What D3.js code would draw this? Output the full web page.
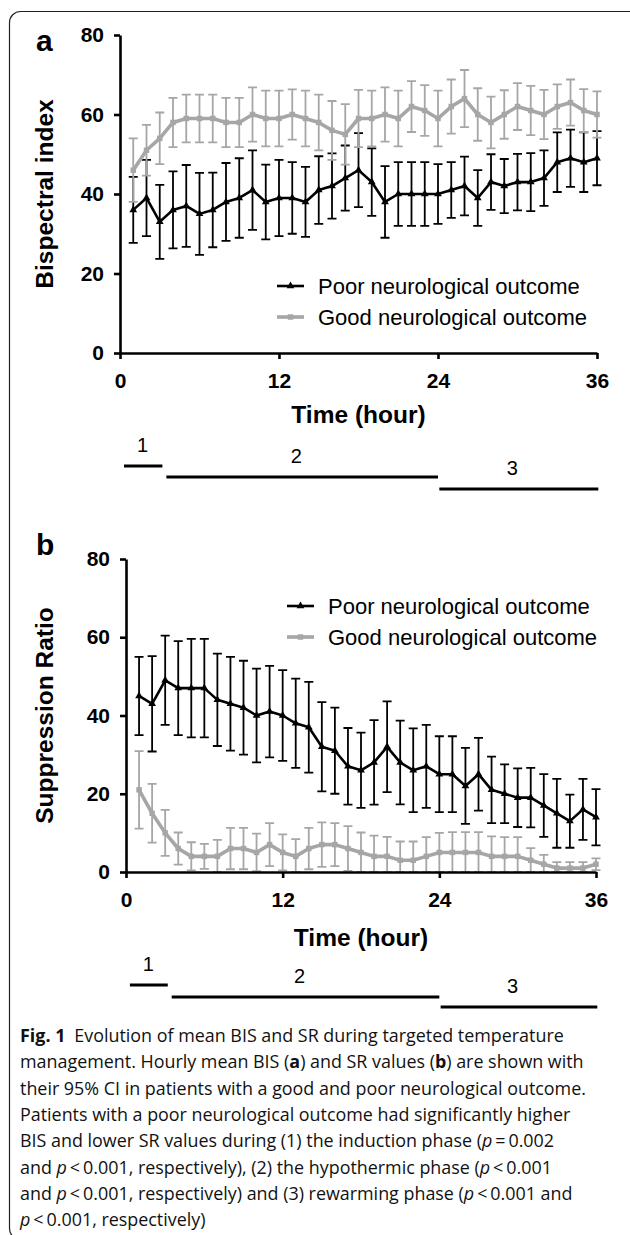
<!DOCTYPE html>
<html>
<head>
<meta charset="utf-8">
<script src="https://cdn.jsdelivr.net/npm/d3@7"></script>
<style>
body { margin: 0; background: #fff; }
svg { display: block; }
</style>
</head>
<body>
<script>

// hours after start of targeted temperature management
let hours = [1, 2, 3, 4, 5, 6, 7, 8, 9, 10, 11, 12, 13, 14, 15, 16, 17, 18,
	19, 20, 21, 22, 23, 24, 25, 26, 27, 28, 29, 30, 31, 32, 33, 34, 35, 36];

// panel a: bispectral index, mean and half width of 95% CI
let bisPoor = [36, 39, 33, 36, 37, 35, 36, 38, 39, 41, 38, 39, 39, 38, 41, 42, 44, 46,
	43, 38, 40, 40, 40, 40, 41, 42, 39, 43, 42, 43, 43, 44, 48, 49, 48, 49];
let bisPoorCI = [8.3, 9.6, 9.3, 9.7, 10.3, 10.3, 9.4, 9.8, 10, 10, 9.4, 9.6, 9, 8.8, 8.5, 8.2, 8.2, 9.3,
	8.5, 9, 8, 8, 8, 7.5, 7, 7.4, 7, 7, 6.8, 7.1, 7.3, 7, 7.5, 7.2, 7.5, 6.8];
let bisGood = [46, 51, 54, 58, 59, 59, 59, 58, 58, 60, 59, 59, 60, 59, 58, 56, 55, 59,
	59, 60, 59, 62, 61, 59, 62, 64, 60, 58, 60, 62, 61, 60, 62, 63, 61, 60];
let bisGoodCI = [8, 6.4, 6.5, 6.2, 6, 6, 6, 6.2, 6.2, 6.8, 7, 7, 6.3, 7, 7, 7.4, 7.6, 7.2,
	7, 6.8, 7, 6.4, 6.4, 7, 6.8, 7.2, 6.6, 6.5, 6.1, 5.9, 6.2, 6.2, 5.6, 5.8, 5.4, 5.8];

// panel b: suppression ratio, mean and half width of 95% CI
let srPoor = [45, 43, 49, 47, 47, 47, 44, 43, 42, 40, 41, 40, 38, 37, 32, 31, 27, 26,
	28, 32, 28, 26, 27, 25, 25, 22, 25, 21, 20, 19, 19, 17, 15, 13, 16, 14];
let srPoorCI = [10, 12.2, 11.4, 12, 12.6, 12.6, 11.8, 12, 12, 12, 11.7, 11.6, 11.4, 11.6, 11.4, 11, 9.8, 9.6,
	10.8, 11.6, 10.7, 10.7, 10.6, 9.7, 9.7, 9.7, 9.3, 8.5, 7.5, 7.5, 7.6, 8, 8.8, 6.8, 7.8, 7.2];
let srGood = [21, 15, 10, 6, 4, 4, 4, 6, 6, 5, 7, 5, 4, 6, 7, 7, 6, 5,
	4, 4, 3, 3, 4, 5, 5, 5, 5, 4, 4, 4, 3, 2, 1, 1, 1, 2];
let srGoodCI = [9.9, 7.5, 5.9, 4.1, 3.6, 3.2, 4.2, 5.3, 5.3, 4.8, 5.5, 4.6, 4.4, 5.3, 5.7, 5.5, 5.7, 5.1,
	5.3, 5, 4.8, 4.8, 4.9, 5, 5.2, 5.2, 5.2, 5.1, 4.9, 4.9, 3.1, 2.4, 1.5, 1.5, 1.5, 1.5];

let xTicks = [0, 12, 24, 36];
let yTicks = [0, 20, 40, 60, 80];

// treatment phases along the time axis (hours)
let phaseLabels = ["1", "2", "3"];
let phaseStart = [0.3, 3.5, 24.1];
let phaseEnd = [3.2, 24, 36.1];
let phaseLabelAt = [1.7, 13.3, 29.6];

let seriesNames = ["Poor neurological outcome", "Good neurological outcome"];

let width = 630;
let height = 1235;
let grey = "#a6a6a6";

let svg = d3.select("body")
	.append("svg")
		.attr("width", width)
		.attr("height", height);

// figure frame, open to the right and bottom
svg.append("rect")
	.attr("x", 9.5)
	.attr("y", 11.5)
	.attr("width", 700)
	.attr("height", 1228)
	.attr("rx", 11)
	.style("fill", "none")
	.style("stroke", "#222")
	.style("stroke-width", 1.2);

let panels = [
	{
		letter: "a", title: "Bispectral index",
		poor: bisPoor, poorCI: bisPoorCI, good: bisGood, goodCI: bisGoodCI,
		left: 120, right: 597, top: 35, bottom: 353,
		letterY: 51, legendX: 277, legendY: 286,
		timeY: 423, phaseY: [466, 477, 489]
	},
	{
		letter: "b", title: "Suppression Ratio",
		poor: srPoor, poorCI: srPoorCI, good: srGood, goodCI: srGoodCI,
		left: 126, right: 596, top: 559, bottom: 872,
		letterY: 555, legendX: 287, legendY: 606,
		timeY: 946, phaseY: [985, 997, 1007]
	}
];

panels.forEach(p => drawPanel(p));

function drawPanel(p) {
	let xScale = d3.scaleLinear()
		.domain([0, 36])
		.range([p.left, p.right]);

	let yScale = d3.scaleLinear()
		.domain([0, 80])
		.range([p.bottom, p.top]);

	let g = svg.append("g");

	// panel letter
	g.append("text")
		.attr("x", 36)
		.attr("y", p.letterY)
		.style("font-family", "Liberation Sans, Arial, sans-serif")
		.style("font-weight", "bold")
		.style("font-size", "30px")
		.text(p.letter);

	// y axis title
	g.append("text")
		.attr("transform", "translate(53," + ((p.top + p.bottom) / 2) + ") rotate(-90)")
		.attr("text-anchor", "middle")
		.style("font-family", "Liberation Sans, Arial, sans-serif")
		.style("font-weight", "bold")
		.style("font-size", "24.5px")
		.text(p.title);

	let series = [
		{ mean: p.poor, ci: p.poorCI, color: "#000", width: 2.6, marker: "triangle" },
		{ mean: p.good, ci: p.goodCI, color: grey, width: 3.6, marker: "square" }
	];

	series.forEach(s => {
		let sg = g.append("g");
		let rows = hours.map((h, i) => ({
			h: h,
			v: s.mean[i],
			lo: Math.max(0, s.mean[i] - s.ci[i]),
			hi: s.mean[i] + s.ci[i]
		}));

		// error bars
		sg.selectAll(".bar")
			.data(rows)
			.enter()
			.append("path")
				.attr("d", d => {
					let x = xScale(d.h);
					return "M" + (x - 4.5) + "," + yScale(d.hi) + "H" + (x + 4.5) +
						"M" + x + "," + yScale(d.hi) + "V" + yScale(d.lo) +
						"M" + (x - 4.5) + "," + yScale(d.lo) + "H" + (x + 4.5);
				})
				.style("fill", "none")
				.style("stroke", s.color)
				.style("stroke-width", 1.8);

		let line = d3.line()
			.x(d => xScale(d.h))
			.y(d => yScale(d.v));

		sg.append("path")
			.datum(rows)
			.attr("d", line)
			.style("fill", "none")
			.style("stroke", s.color)
			.style("stroke-width", s.width)
			.style("stroke-linejoin", "round");

		let sym = d3.symbol()
			.type(s.marker === "triangle" ? d3.symbolTriangle : d3.symbolSquare)
			.size(s.marker === "triangle" ? 26 : 30);

		sg.selectAll(".pt")
			.data(rows)
			.enter()
			.append("path")
				.attr("d", sym)
				.attr("transform", d => "translate(" + xScale(d.h) + "," + yScale(d.v) + ")")
				.style("fill", s.color);
	});

	// axes
	let xAxis = d3.axisBottom(xScale)
		.tickValues(xTicks)
		.tickSize(6)
		.tickSizeOuter(0)
		.tickPadding(10);

	let yAxis = d3.axisLeft(yScale)
		.tickValues(yTicks)
		.tickSize(6)
		.tickSizeOuter(0)
		.tickPadding(10);

	let xg = g.append("g")
		.attr("transform", "translate(0," + p.bottom + ")")
		.call(xAxis);

	let yg = g.append("g")
		.attr("transform", "translate(" + p.left + ",0)")
		.call(yAxis);

	[xg, yg].forEach(ax => {
		ax.select(".domain").style("stroke-width", 2.6).style("stroke", "#000");
		ax.selectAll(".tick line").style("stroke-width", 2.6).style("stroke", "#000");
		ax.selectAll(".tick text")
			.style("font-family", "Liberation Sans, Arial, sans-serif")
			.style("font-weight", "bold")
			.style("font-size", "21px")
			.style("fill", "#000");
	});
	xg.selectAll(".tick text").attr("dy", "0.9em");

	// x axis title
	g.append("text")
		.attr("x", (p.left + p.right) / 2)
		.attr("y", p.timeY)
		.attr("text-anchor", "middle")
		.style("font-family", "Liberation Sans, Arial, sans-serif")
		.style("font-weight", "bold")
		.style("font-size", "24.5px")
		.text("Time (hour)");

	// legend
	let legend = g.append("g")
		.attr("transform", "translate(" + p.legendX + "," + p.legendY + ")");

	series.forEach((s, i) => {
		let lg = legend.append("g").attr("transform", "translate(0," + (i * 31) + ")");
		lg.append("line")
			.attr("x1", 0)
			.attr("x2", 27)
			.style("stroke", s.color)
			.style("stroke-width", s.width);
		lg.append("path")
			.attr("d", d3.symbol()
				.type(s.marker === "triangle" ? d3.symbolTriangle : d3.symbolSquare)
				.size(s.marker === "triangle" ? 26 : 30))
			.attr("transform", "translate(13.5,0)")
			.style("fill", s.color);
		lg.append("text")
			.attr("x", 41)
			.attr("dy", "0.35em")
			.style("font-family", "Liberation Sans, Arial, sans-serif")
			.style("font-size", "22px")
			.text(seriesNames[i]);
	});

	// phase bars below the time axis
	phaseLabels.forEach((lab, i) => {
		g.append("line")
			.attr("x1", xScale(phaseStart[i]))
			.attr("x2", xScale(phaseEnd[i]))
			.attr("y1", p.phaseY[i])
			.attr("y2", p.phaseY[i])
			.style("stroke", "#000")
			.style("stroke-width", 3);
		g.append("text")
			.attr("x", xScale(phaseLabelAt[i]))
			.attr("y", p.phaseY[i] - 14)
			.attr("text-anchor", "middle")
			.style("font-family", "Liberation Sans, Arial, sans-serif")
			.style("font-size", "20px")
			.text(lab);
	});
}

// caption
let caption = [
	[["Fig. 1", "b"], ["\u2002Evolution of mean BIS and SR during targeted temperature", ""]],
	[["management. Hourly mean BIS (", ""], ["a", "b"], [") and SR values (", ""], ["b", "b"], [") are shown with", ""]],
	[["their 95% CI in patients with a good and poor neurological outcome.", ""]],
	[["Patients with a poor neurological outcome had significantly higher", ""]],
	[["BIS and lower SR values during (1) the induction phase (", ""], ["p", "i"], ["\u2009=\u20090.002", ""]],
	[["and ", ""], ["p", "i"], ["\u2009<\u20090.001, respectively), (2) the hypothermic phase (", ""], ["p", "i"], ["\u2009<\u20090.001", ""]],
	[["and ", ""], ["p", "i"], ["\u2009<\u20090.001, respectively) and (3) rewarming phase (", ""], ["p", "i"], ["\u2009<\u20090.001 and", ""]],
	[["p", "i"], ["\u2009<\u20090.001, respectively)", ""]]
];

let cap = svg.append("text")
	.style("font-family", "Open Sans, Noto Sans, sans-serif")
	.style("font-size", "17.9px")
	.style("fill", "#111");

caption.forEach((line, i) => {
	line.forEach((seg, j) => {
		let t = cap.append("tspan").text(seg[0]);
		if (j === 0) t.attr("x", 20).attr("y", 1042 + i * 26.3);
		if (seg[1] === "b") t.style("font-weight", "bold");
		if (seg[1] === "i") t.style("font-style", "italic");
	});
});

</script>
</body>
</html>
